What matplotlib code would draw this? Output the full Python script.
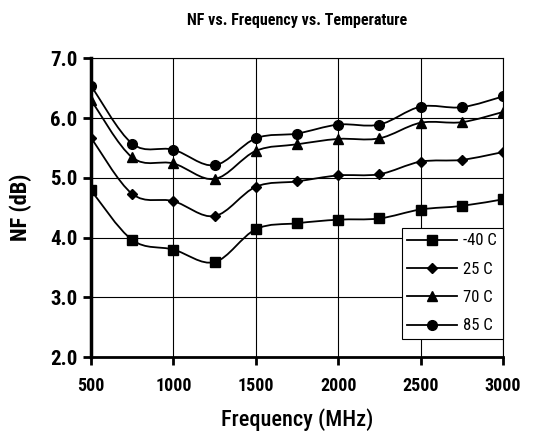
import numpy as np
import matplotlib.pyplot as plt
from matplotlib.path import Path
from matplotlib.patches import PathPatch
from matplotlib.lines import Line2D

plt.rcParams['font.family'] = ['Roboto Condensed', 'PT Sans Narrow', 'Liberation Sans', 'DejaVu Sans']

freq = [500, 750, 1000, 1250, 1500, 1750, 2000, 2250, 2500, 2750, 3000]
nf_m40 = [4.79, 3.96, 3.80, 3.59, 4.14, 4.24, 4.30, 4.32, 4.47, 4.53, 4.64]
nf_25 = [5.67, 4.73, 4.61, 4.36, 4.85, 4.94, 5.04, 5.06, 5.27, 5.30, 5.43]
nf_70 = [6.30, 5.34, 5.24, 4.98, 5.45, 5.56, 5.65, 5.66, 5.92, 5.93, 6.10]
nf_85 = [6.54, 5.57, 5.47, 5.21, 5.66, 5.74, 5.89, 5.89, 6.19, 6.18, 6.36]
labels = ['-40 C', '25 C', '70 C', '85 C']
markers = ['s', 'D', '^', 'o']
msizes = [7.5, 5, 7, 7]


def smooth_path(x, y):
    # excel style smoothed line, bezier through the points
    pts = np.column_stack([x, y]).astype(float)
    n = len(pts)
    verts = [pts[0]]
    codes = [Path.MOVETO]
    for i in range(n - 1):
        p0 = pts[i - 1] if i > 0 else pts[i]
        p1 = pts[i]
        p2 = pts[i + 1]
        p3 = pts[i + 2] if i + 2 < n else pts[i + 1]
        verts += [p1 + (p2 - p0) / 6, p2 - (p3 - p1) / 6, p2]
        codes += [Path.CURVE4] * 3
    return Path(verts, codes)


fig = plt.figure(figsize=(5.52, 4.41), dpi=100)
ax = fig.add_axes([0.165, 0.19, 0.746, 0.678])

handles = []
for ys, lab, m, ms in zip([nf_m40, nf_25, nf_70, nf_85], labels, markers, msizes):
    ax.add_patch(PathPatch(smooth_path(freq, ys), fill=False, ec='black', lw=1.3, zorder=3))
    ax.plot(freq, ys, ls='none', marker=m, ms=ms, color='black', zorder=4)
    handles.append(Line2D([], [], color='black', lw=1.3, marker=m, ms=ms, label=lab))

ax.set_xlim(500, 3000)
ax.set_ylim(2.0, 7.0)
ax.set_xticks(np.arange(500, 3001, 500))
ax.set_yticks(np.arange(2.0, 7.01, 1.0))
ax.set_yticklabels(['%.1f' % v for v in np.arange(2.0, 7.01, 1.0)])
ax.grid(True, color='black', lw=0.8)

for s in ['top', 'right']:
    ax.spines[s].set_linewidth(0.8)
ax.spines['left'].set_linewidth(2.5)
ax.spines['bottom'].set_linewidth(2.0)
ax.tick_params(axis='y', direction='out', length=6, width=2, labelsize=15, pad=4)
ax.tick_params(axis='x', direction='out', length=6, width=2, labelsize=13, pad=8)
for t in ax.get_xticklabels() + ax.get_yticklabels():
    t.set_fontweight('bold')

ax.set_title('NF vs. Frequency vs. Temperature', fontsize=11.5, fontweight='bold', pad=24)
ax.set_xlabel('Frequency (MHz)', fontsize=16, fontweight='medium', labelpad=10)
ax.set_ylabel('NF (dB)', fontsize=16, fontweight='bold', labelpad=13)

leg = ax.legend(handles=handles, loc='lower right', bbox_to_anchor=(1.0, 0.06),
                fontsize=12, frameon=True, fancybox=False, edgecolor='black',
                framealpha=1, handlelength=3.0, handletextpad=0.35,
                borderaxespad=0, borderpad=0.35, labelspacing=0.8)
leg.get_frame().set_linewidth(0.8)

fig.savefig('out.png', dpi=100)
